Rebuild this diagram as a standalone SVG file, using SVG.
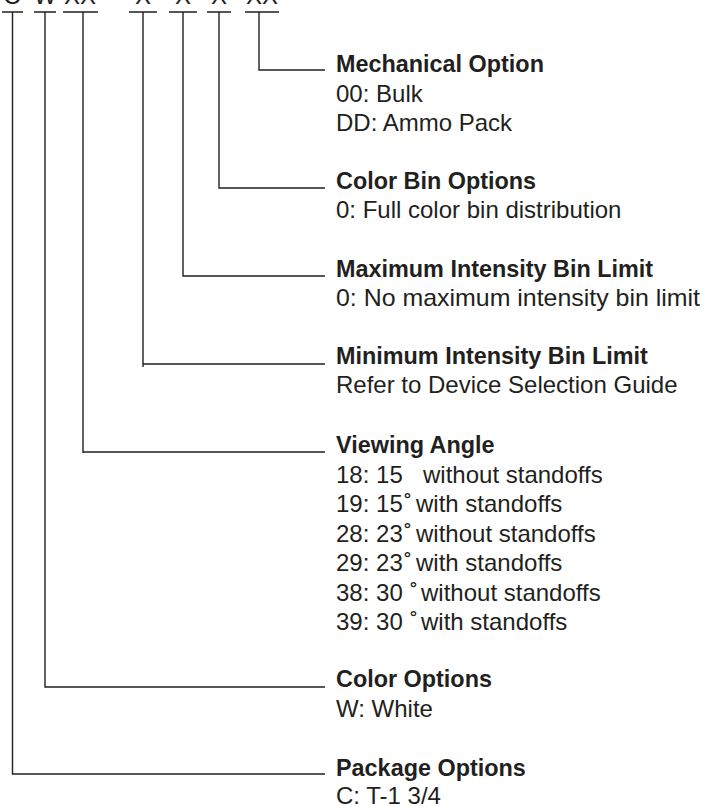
<svg xmlns="http://www.w3.org/2000/svg" width="704" height="807" viewBox="0 0 704 807">
<style>
text{font-family:"Liberation Sans",Arial,sans-serif;fill:#231f20;font-size:24px}
.h{font-weight:bold;font-size:23.4px}
.c{text-anchor:middle}
.ln{stroke:#231f20;stroke-width:1.4;fill:none}
</style>
<rect width="704" height="807" fill="#fff"/>
<g id="code">
<text class="c" x="12" y="4">C</text>
<text class="c" x="45" y="4">W</text>
<text class="c" x="80" y="4">XX</text>
<text class="c" x="143" y="4">X</text>
<text class="c" x="183" y="4">X</text>
<text class="c" x="219" y="4">X</text>
<text class="c" x="262" y="4">XX</text>
</g>
<g id="connectors" class="ln">
<path d="M2 12H23M34 12H56M63 12H98M129 12H157M169 12H197M207 12H231M245 12H279"/>
<path d="M259 12V70H325"/>
<path d="M219 12V188H325"/>
<path d="M183 12V276H325"/>
<path d="M143 12V367M143 364H325"/>
<path d="M83 12V453M83 452H325"/>
<path d="M45 12V687H325"/>
<path d="M12.5 12V774H325"/>
</g>
<g id="mechanical">
<text class="h" x="336" y="72">Mechanical Option</text>
<text x="336" y="102">00: Bulk</text>
<text x="336" y="131">DD: Ammo Pack</text>
</g>
<g id="colorbin">
<text class="h" x="336" y="189">Color Bin Options</text>
<text x="336" y="218">0: Full color bin distribution</text>
</g>
<g id="maxint">
<text class="h" x="336" y="277">Maximum Intensity Bin Limit</text>
<text x="336" y="306" textLength="364" lengthAdjust="spacingAndGlyphs">0: No maximum intensity bin limit</text>
</g>
<g id="minint">
<text class="h" x="336" y="364">Minimum Intensity Bin Limit</text>
<text x="336" y="393">Refer to Device Selection Guide</text>
</g>
<g id="viewing">
<text class="h" x="336" y="453">Viewing Angle</text>
<text x="336" y="483">18: 15<tspan x="423">without standoffs</tspan></text>
<text x="336" y="512">19: 15<tspan x="404">˚</tspan><tspan x="416">with standoffs</tspan></text>
<text x="336" y="542">28: 23<tspan x="404">˚</tspan><tspan x="416">without standoffs</tspan></text>
<text x="336" y="571">29: 23<tspan x="404">˚</tspan><tspan x="416">with standoffs</tspan></text>
<text x="336" y="601">38: 30<tspan x="410">˚</tspan><tspan x="421">without standoffs</tspan></text>
<text x="336" y="630">39: 30<tspan x="410">˚</tspan><tspan x="421">with standoffs</tspan></text>
</g>
<g id="coloropt">
<text class="h" x="336" y="687">Color Options</text>
<text x="336" y="717">W: White</text>
</g>
<g id="package">
<text class="h" x="336" y="776">Package Options</text>
<text x="336" y="804">C: T-1 3/4</text>
</g>
</svg>
